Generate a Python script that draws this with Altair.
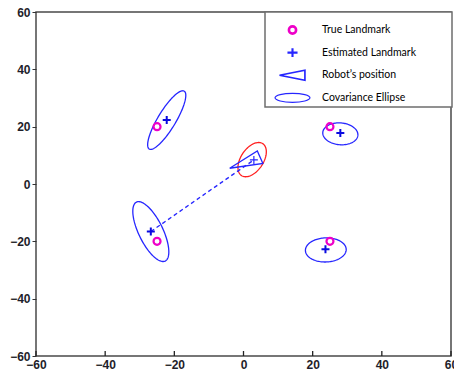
import altair as alt
import numpy as np
import pandas as pd

# ---- data ----
true_x = [-25, -25, 25, 25]
true_y = [20, -20, 20, -20]

est_x = [-22.2, -26.8, 28.0, 23.7]
est_y = [22.3, -16.6, 17.8, -22.8]

# covariance ellipses: centre, semi-axes (data units), tilt (degrees)
ell_cx = [-22.2, -26.8, 28.0, 23.8, 2.5]
ell_cy = [22.3, -16.6, 17.5, -23.0, 8.5]
ell_a = [11.3, 11.1, 5.1, 5.9, 6.4]
ell_b = [2.7, 3.6, 3.8, 4.2, 3.4]
ell_ang = [64, -69, -8, 3, 65]
ell_kind = ["landmark", "landmark", "landmark", "landmark", "robot"]

robot_x = [3.0]
robot_y = [8.4]
tri_x = [-4.0, 4.0, 5.6, -4.0]
tri_y = [5.5, 11.5, 7.2, 5.5]

obs_x = [-26.8, 3.0]
obs_y = [-16.6, 8.4]

tick_vals = [-60, -40, -20, 0, 20, 40, 60]
legend_items = ["True Landmark", "Estimated Landmark", "Robot\u2019s position", "Covariance Ellipse"]

# ---- tables ----
rows = []
phi = np.linspace(0, 2 * np.pi, 121)
for i, (cx, cy, a, b, ang, kind) in enumerate(zip(ell_cx, ell_cy, ell_a, ell_b, ell_ang, ell_kind)):
    t = np.deg2rad(ang)
    xs = cx + a * np.cos(phi) * np.cos(t) - b * np.sin(phi) * np.sin(t)
    ys = cy + a * np.cos(phi) * np.sin(t) + b * np.sin(phi) * np.cos(t)
    for k, (xx, yy) in enumerate(zip(xs, ys)):
        rows.append({"id": i, "k": k, "x": xx, "y": yy, "kind": kind})
ell_df = pd.DataFrame(rows)

true_df = pd.DataFrame({"x": true_x, "y": true_y})
est_df = pd.DataFrame({"x": est_x, "y": est_y})
robot_df = pd.DataFrame({"x": robot_x, "y": robot_y})
tri_df = pd.DataFrame({"x": tri_x, "y": tri_y, "k": list(range(len(tri_x)))})
obs_df = pd.DataFrame({"x": obs_x, "y": obs_y, "k": [0, 1]})
tick_df = pd.DataFrame({"x": tick_vals})
leg_df = pd.DataFrame({"item": legend_items, "x": [1000] * 4, "y": [1000] * 4})

BLUE = "#2626ff"
RED = "#ff2020"
MAG = "#ee00c8"

xscale = alt.Scale(domain=[-60, 60], nice=False, zero=False)
yscale = alt.Scale(domain=[-60, 60], nice=False, zero=False)
xaxis = alt.Axis(values=tick_vals, title=None, grid=False, domain=False, ticks=False,
                 labelPadding=3, labelFlush=False)
yaxis = alt.Axis(values=tick_vals, title=None, grid=False, domain=False, ticks=True,
                 tickSize=4, labelPadding=2, labelFlush=False)

def X(f="x:Q"):
    return alt.X(f, scale=xscale, axis=xaxis)

def Y(f="y:Q"):
    return alt.Y(f, scale=yscale, axis=yaxis)

plus_path = "M-1,0L1,0M0,-1L0,1"

lm_ell = alt.Chart(ell_df).transform_filter(alt.datum.kind == "landmark").mark_line(
    strokeWidth=1.3, color=BLUE).encode(x=X(), y=Y(), detail="id:N", order="k:Q")
rb_ell = alt.Chart(ell_df).transform_filter(alt.datum.kind == "robot").mark_line(
    strokeWidth=1.3, color=RED).encode(x=X(), y=Y(), detail="id:N", order="k:Q")

obs = alt.Chart(obs_df).mark_line(color=BLUE, strokeWidth=1.3, strokeDash=[4, 3]).encode(
    x=X(), y=Y(), order="k:Q")

tri = alt.Chart(tri_df).mark_line(color=BLUE, strokeWidth=1.3).encode(x=X(), y=Y(), order="k:Q")

robot = alt.Chart(robot_df).mark_point(shape=plus_path, size=64, color=BLUE, strokeWidth=1.2,
                                       filled=False, opacity=1).encode(x=X(), y=Y())

trues = alt.Chart(true_df).mark_point(shape="circle", size=49, color=MAG, strokeWidth=2.2,
                                      filled=False, opacity=1).encode(x=X(), y=Y())

ests = alt.Chart(est_df).mark_point(shape=plus_path, size=64, color="#0a0ae0", strokeWidth=2.0,
                                    filled=False, opacity=1).encode(x=X(), y=Y())

xticks = alt.Chart(tick_df).mark_rule(color="#222222", strokeWidth=1.3).encode(
    x=X(), y=alt.value(344), y2=alt.value(339))

box = alt.Chart(pd.DataFrame({"a": [0]})).mark_rect(fill="white", stroke="#6e6e6e", strokeWidth=1.5).encode(
    x=alt.value(229), x2=alt.value(416), y=alt.value(0), y2=alt.value(95))

# legend symbols (unit = 18 px for symbolSize 1296)
leg_shapes = [
    "M0.2,0A0.2,0.2,0,1,1,-0.2,0A0.2,0.2,0,1,1,0.2,0Z",
    "M-0.28,0L0.28,0M0,-0.24L0,0.24",
    "M-0.72,0L0.69,-0.28L0.69,0.28Z",
    "M0.97,0A0.97,0.25,0,1,1,-0.97,0A0.97,0.25,0,1,1,0.97,0Z",
]
leg = alt.Legend(orient="none", legendX=237, legendY=8, title=None, labelFont="Lato",
                 labelFontSize=10.5, labelColor="#000000", symbolSize=1296, clipHeight=20,
                 rowPadding=2.6, labelOffset=10, padding=0)
legend_layer = alt.Chart(leg_df).mark_point(filled=False, clip=True, opacity=1, size=1296).encode(
    x=X(), y=Y(),
    shape=alt.Shape("item:N", scale=alt.Scale(domain=legend_items, range=leg_shapes), legend=leg),
    color=alt.Color("item:N", scale=alt.Scale(domain=legend_items, range=[MAG, BLUE, BLUE, BLUE]), legend=leg),
    strokeWidth=alt.StrokeWidth("item:N", scale=alt.Scale(domain=legend_items, range=[2.6, 1.2, 1.2, 1.2]), legend=leg),
)

chart = alt.layer(box, lm_ell, rb_ell, obs, tri, robot, trues, ests, xticks, legend_layer).properties(
    width=415, height=344,
    padding={"left": 36, "top": 12, "right": 3, "bottom": 23},
    autosize=alt.AutoSizeParams(type="none"),
    background="white",
).configure_view(stroke="#4a4a4a", strokeWidth=1.5).configure_axis(
    labelFont="Liberation Sans", labelFontSize=12, labelFontWeight="bold", labelColor="#1e1e2a",
    tickColor="#333333",
)

chart.save("out.html", embed_options={"renderer": "svg", "actions": False})
